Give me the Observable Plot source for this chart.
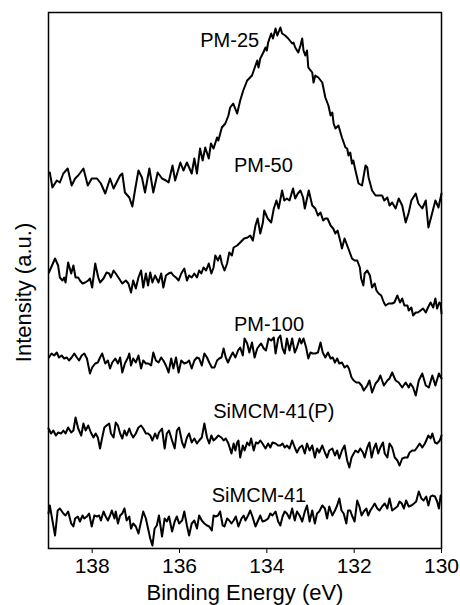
<!DOCTYPE html>
<html><head><meta charset="utf-8">
<script src="https://cdn.jsdelivr.net/npm/d3@7"></script>
<script src="https://cdn.jsdelivr.net/npm/@observablehq/plot@0.6"></script>
<style>body{margin:0;background:#fff}</style>
</head><body><div id="chart"></div>
<script>
// Binding energy (eV), intensity (a.u.) pairs
const pm25 = [[138.97,376],[138.91,361],[138.81,368],[138.74,366],[138.66,375],[138.56,380],[138.47,363],[138.39,370],[138.32,373],[138.20,380],
[138.10,363],[138.01,370],[137.89,370],[137.80,365],[137.70,355],[137.59,370],[137.51,360],[137.36,373],[137.31,375],[137.25,356],
[137.15,351],[137.08,342],[137.02,358],[136.94,378],[136.86,371],[136.79,356],[136.69,380],[136.60,356],[136.50,376],[136.40,370],
[136.31,368],[136.25,366],[136.16,383],[136.10,368],[135.98,386],[135.91,378],[135.83,386],[135.72,375],[135.66,390],[135.60,375],
[135.53,400],[135.47,388],[135.41,401],[135.33,390],[135.28,405],[135.22,400],[135.14,411],[135.11,408],[135.03,421],[134.95,425],
[134.88,433],[134.84,441],[134.77,445],[134.68,435],[134.61,448],[134.54,458],[134.45,468],[134.34,473],[134.26,483],[134.22,488],
[134.19,481],[134.15,490],[134.08,496],[134.03,501],[134.00,498],[133.97,506],[133.90,515],[133.86,510],[133.80,520],[133.76,513],
[133.69,521],[133.65,515],[133.58,513],[133.51,510],[133.42,505],[133.39,506],[133.35,501],[133.28,496],[133.23,503],[133.19,510],
[133.16,498],[133.12,493],[133.08,498],[133.05,481],[132.96,476],[132.93,466],[132.89,473],[132.82,471],[132.73,466],[132.66,451],
[132.59,443],[132.54,433],[132.50,436],[132.47,425],[132.43,420],[132.36,423],[132.28,411],[132.20,401],[132.16,400],[132.13,393],
[132.09,396],[132.05,385],[132.02,388],[131.97,378],[131.90,365],[131.82,363],[131.74,383],[131.70,381],[131.67,371],[131.59,358],
[131.51,353],[131.44,353],[131.36,353],[131.31,348],[131.24,351],[131.19,343],[131.13,346],[131.05,340],[130.98,350],[130.90,343],
[130.82,326],[130.75,336],[130.69,348],[130.59,355],[130.53,345],[130.44,340],[130.36,348],[130.30,321],[130.21,336],[130.14,348],
[130.07,341],[130.00,355]];

const pm50 = [[138.99,276],[138.92,283],[138.85,290],[138.78,283],[138.74,271],[138.68,268],[138.64,271],[138.61,266],[138.55,286],[138.48,275],
[138.43,283],[138.38,271],[138.32,271],[138.28,268],[138.22,265],[138.16,266],[138.09,268],[138.05,270],[138.00,261],[137.93,285],
[137.86,271],[137.82,266],[137.74,270],[137.67,276],[137.61,275],[137.57,271],[137.51,278],[137.46,275],[137.40,271],[137.31,265],
[137.23,268],[137.17,265],[137.11,256],[137.06,268],[137.00,260],[136.94,271],[136.88,278],[136.83,261],[136.77,275],[136.72,263],
[136.67,276],[136.62,266],[136.56,273],[136.48,266],[136.42,275],[136.37,261],[136.31,273],[136.25,275],[136.19,276],[136.14,273],
[136.08,271],[136.02,268],[135.96,275],[135.89,280],[135.83,268],[135.78,273],[135.72,271],[135.66,275],[135.60,271],[135.55,278],
[135.50,275],[135.45,281],[135.39,278],[135.33,285],[135.27,275],[135.22,281],[135.18,293],[135.12,288],[135.07,293],[135.03,285],
[134.97,278],[134.91,285],[134.86,296],[134.80,293],[134.76,301],[134.68,303],[134.61,306],[134.52,310],[134.44,311],[134.38,313],
[134.32,308],[134.26,323],[134.21,330],[134.15,315],[134.09,326],[134.06,338],[133.98,330],[133.90,326],[133.84,340],[133.78,348],
[133.73,340],[133.65,358],[133.60,348],[133.54,350],[133.48,348],[133.40,360],[133.35,350],[133.29,355],[133.23,358],[133.17,351],
[133.13,340],[133.04,358],[132.96,343],[132.89,340],[132.83,333],[132.77,336],[132.71,328],[132.66,330],[132.61,330],[132.54,323],
[132.48,320],[132.43,315],[132.38,318],[132.31,306],[132.28,300],[132.22,310],[132.16,303],[132.10,296],[132.05,290],[131.99,288],
[131.93,288],[131.87,281],[131.84,270],[131.79,263],[131.76,275],[131.70,278],[131.64,273],[131.59,261],[131.53,265],[131.49,258],
[131.44,255],[131.38,253],[131.32,246],[131.28,243],[131.21,245],[131.13,245],[131.08,246],[131.01,253],[130.95,246],[130.90,250],
[130.85,243],[130.78,243],[130.75,238],[130.69,241],[130.65,233],[130.59,236],[130.54,236],[130.48,238],[130.42,240],[130.36,236],
[130.31,241],[130.25,246],[130.19,241],[130.14,250],[130.10,240],[130.05,246],[130.02,245],[130.00,235]];

const pm100 = [[138.99,191],[138.93,195],[138.87,193],[138.81,196],[138.76,191],[138.70,193],[138.64,190],[138.58,191],[138.53,188],[138.47,191],
[138.41,195],[138.35,191],[138.30,188],[138.24,193],[138.18,195],[138.12,190],[138.05,175],[138.00,181],[137.93,185],[137.87,186],
[137.82,191],[137.77,195],[137.70,185],[137.64,188],[137.59,180],[137.54,186],[137.47,190],[137.41,185],[137.36,191],[137.31,176],
[137.25,185],[137.18,191],[137.15,195],[137.11,183],[137.06,190],[137.00,186],[136.94,193],[136.88,180],[136.83,188],[136.77,185],
[136.71,185],[136.65,183],[136.60,196],[136.54,188],[136.48,186],[136.42,191],[136.37,188],[136.31,183],[136.25,176],[136.19,190],
[136.14,180],[136.08,191],[136.02,176],[135.96,188],[135.89,185],[135.83,186],[135.78,188],[135.72,180],[135.66,188],[135.60,191],
[135.55,190],[135.49,183],[135.43,195],[135.37,191],[135.32,186],[135.26,181],[135.20,181],[135.14,188],[135.09,190],[135.04,191],
[134.99,200],[134.94,191],[134.89,186],[134.84,191],[134.78,196],[134.72,191],[134.66,198],[134.61,201],[134.55,193],[134.51,210],
[134.45,205],[134.40,196],[134.34,206],[134.28,191],[134.22,200],[134.17,203],[134.13,205],[134.07,200],[134.02,198],[133.96,210],
[133.90,208],[133.84,211],[133.80,195],[133.74,210],[133.69,213],[133.64,200],[133.59,195],[133.54,210],[133.48,198],[133.42,210],
[133.36,196],[133.31,201],[133.25,210],[133.21,205],[133.16,210],[133.10,201],[133.05,190],[133.00,196],[132.95,195],[132.89,195],
[132.83,196],[132.77,206],[132.72,196],[132.66,191],[132.60,196],[132.54,190],[132.49,191],[132.44,186],[132.39,190],[132.34,185],
[132.28,186],[132.22,181],[132.16,183],[132.12,180],[132.06,171],[132.01,168],[131.95,166],[131.89,166],[131.83,163],[131.78,158],
[131.70,163],[131.65,168],[131.59,156],[131.51,165],[131.45,168],[131.40,173],[131.32,163],[131.24,168],[131.19,170],[131.13,176],
[131.05,168],[130.98,166],[130.90,161],[130.82,166],[130.75,161],[130.71,165],[130.65,161],[130.59,153],[130.52,168],[130.44,175],
[130.36,163],[130.29,161],[130.21,173],[130.14,163],[130.06,175],[130.00,170]];

const simcmP = [[139.00,120],[138.94,115],[138.89,118],[138.83,113],[138.78,116],[138.71,115],[138.66,118],[138.61,115],[138.55,121],[138.48,116],
[138.43,118],[138.38,131],[138.32,120],[138.25,113],[138.20,125],[138.15,118],[138.09,123],[138.03,116],[137.97,111],[137.92,115],
[137.87,111],[137.82,100],[137.77,111],[137.72,121],[137.67,123],[137.61,125],[137.57,115],[137.51,111],[137.46,126],[137.41,123],
[137.36,115],[137.31,110],[137.26,118],[137.21,113],[137.15,120],[137.11,115],[137.06,111],[137.00,115],[136.94,121],[136.88,123],
[136.83,120],[136.77,115],[136.72,115],[136.67,113],[136.62,108],[136.56,115],[136.51,110],[136.47,116],[136.40,120],[136.34,100],
[136.29,115],[136.24,118],[136.17,108],[136.11,100],[136.06,118],[136.01,121],[135.94,106],[135.89,101],[135.83,111],[135.78,115],
[135.72,106],[135.66,110],[135.60,105],[135.55,108],[135.49,111],[135.43,125],[135.37,111],[135.32,105],[135.27,113],[135.22,108],
[135.17,110],[135.11,113],[135.04,111],[134.99,108],[134.94,110],[134.88,105],[134.81,95],[134.76,105],[134.72,98],[134.68,106],
[134.65,108],[134.61,91],[134.55,103],[134.51,98],[134.45,106],[134.40,103],[134.36,110],[134.30,98],[134.25,106],[134.20,105],
[134.15,108],[134.10,105],[134.03,100],[133.97,105],[133.92,101],[133.87,106],[133.80,105],[133.74,103],[133.69,103],[133.64,105],
[133.59,101],[133.54,103],[133.48,100],[133.42,108],[133.36,101],[133.31,96],[133.25,101],[133.19,103],[133.13,95],[133.08,105],
[133.02,98],[132.96,103],[132.90,91],[132.85,100],[132.80,96],[132.73,103],[132.67,96],[132.62,91],[132.57,98],[132.50,100],
[132.44,93],[132.39,98],[132.34,90],[132.28,98],[132.22,103],[132.16,88],[132.11,81],[132.06,91],[132.01,95],[131.97,98],
[131.91,96],[131.86,100],[131.80,96],[131.76,91],[131.70,101],[131.65,106],[131.60,91],[131.55,100],[131.50,105],[131.45,95],
[131.40,101],[131.34,106],[131.30,95],[131.24,91],[131.19,105],[131.13,101],[131.07,91],[131.01,88],[130.96,83],[130.90,90],
[130.84,91],[130.78,91],[130.73,96],[130.67,98],[130.61,98],[130.56,101],[130.50,105],[130.44,101],[130.38,105],[130.35,108],
[130.30,113],[130.25,110],[130.21,115],[130.15,106],[130.10,105],[130.04,108],[130.00,113]];

const simcm = [[139.00,35],[138.97,43],[138.91,28],[138.85,13],[138.79,38],[138.74,40],[138.66,35],[138.61,33],[138.55,37],[138.48,25],
[138.43,22],[138.39,30],[138.33,32],[138.28,27],[138.22,33],[138.18,30],[138.12,32],[138.07,35],[138.01,22],[137.95,33],
[137.89,32],[137.84,33],[137.80,28],[137.74,37],[137.69,32],[137.64,28],[137.59,33],[137.55,38],[137.49,30],[137.46,37],
[137.41,25],[137.36,33],[137.31,35],[137.26,40],[137.21,28],[137.15,32],[137.11,20],[137.06,25],[137.00,22],[136.94,15],
[136.88,27],[136.83,37],[136.77,30],[136.72,20],[136.67,10],[136.62,3],[136.57,20],[136.52,23],[136.47,33],[136.40,12],
[136.34,30],[136.29,27],[136.24,32],[136.17,17],[136.11,27],[136.06,32],[136.01,25],[135.94,28],[135.89,37],[135.83,23],
[135.78,13],[135.72,25],[135.66,28],[135.60,20],[135.55,33],[135.49,28],[135.43,25],[135.37,23],[135.32,22],[135.26,18],
[135.22,33],[135.17,32],[135.12,33],[135.07,37],[135.01,23],[134.97,22],[134.91,30],[134.86,28],[134.81,25],[134.76,28],
[134.71,32],[134.65,22],[134.58,30],[134.53,33],[134.49,28],[134.43,33],[134.38,38],[134.33,32],[134.26,22],[134.20,28],
[134.15,33],[134.10,27],[134.03,28],[133.97,30],[133.92,35],[133.87,33],[133.80,37],[133.74,27],[133.69,23],[133.64,32],
[133.59,37],[133.54,35],[133.48,30],[133.42,40],[133.36,28],[133.31,37],[133.25,33],[133.19,27],[133.13,37],[133.08,43],
[133.02,27],[132.96,38],[132.90,25],[132.85,35],[132.80,37],[132.73,43],[132.67,40],[132.62,30],[132.57,42],[132.50,33],
[132.44,38],[132.39,43],[132.34,50],[132.29,38],[132.24,35],[132.18,25],[132.14,38],[132.09,38],[132.05,33],[131.99,27],
[131.93,48],[131.88,42],[131.83,33],[131.78,37],[131.72,40],[131.68,33],[131.63,38],[131.57,42],[131.53,45],[131.47,40],
[131.42,38],[131.36,42],[131.30,45],[131.24,40],[131.19,50],[131.13,38],[131.07,40],[131.01,42],[130.96,47],[130.91,45],
[130.86,40],[130.81,48],[130.75,42],[130.69,43],[130.63,45],[130.58,47],[130.52,57],[130.46,50],[130.41,48],[130.35,52],
[130.30,43],[130.25,52],[130.21,53],[130.15,52],[130.10,47],[130.06,40],[130.02,53]];

const seriesNames = ["PM-25", "PM-50", "PM-100", "SiMCM-41(P)", "SiMCM-41"];
const seriesData = [pm25, pm50, pm100, simcmP, simcm];
const labelEnergy = [134.85, 134.08, 133.95, 133.84, 134.18];
const labelIntensity = [508, 383, 224, 137, 53];
const xTicks = [138, 136, 134, 132, 130];
const xTitle = "Binding Energy (eV)";
const yTitle = "Intensity (a.u.)";

const rows = [];
seriesNames.forEach((name, k) => seriesData[k].forEach(([e, v]) => rows.push({name, e, v})));
const labels = seriesNames.map((name, k) => ({name, e: labelEnergy[k], v: labelIntensity[k]}));

const chart = Plot.plot({
  width: 460,
  height: 605,
  marginLeft: 48,
  marginRight: 19,
  marginTop: 12,
  marginBottom: 57,
  style: {fontFamily: "'Liberation Sans', Arial, Helvetica, sans-serif", fontSize: "21px", background: "#fff", color: "#000"},
  x: {domain: [139, 130], ticks: xTicks, tickSize: 5, tickPadding: 5, label: null, tickFormat: d => String(d)},
  y: {domain: [0, 536], axis: null},
  marks: [
    Plot.line(rows, {x: "e", y: "v", z: "name", stroke: "#000", strokeWidth: 2, strokeLinejoin: "round"}),
    Plot.text(labels, {x: "e", y: "v", text: "name", fontSize: 20, fill: "#000"}),
    Plot.frame({stroke: "#000", strokeWidth: 1.5}),
    Plot.text([xTitle], {frameAnchor: "bottom", lineAnchor: "bottom", dy: 51, text: d => d, fontSize: 22, fill: "#000"}),
    Plot.text([yTitle], {x: () => 139.57, y: () => 256, rotate: -90, text: d => d, fontSize: 22, fill: "#000"})
  ]
});
document.getElementById("chart").appendChild(chart);
</script>
</body></html>
